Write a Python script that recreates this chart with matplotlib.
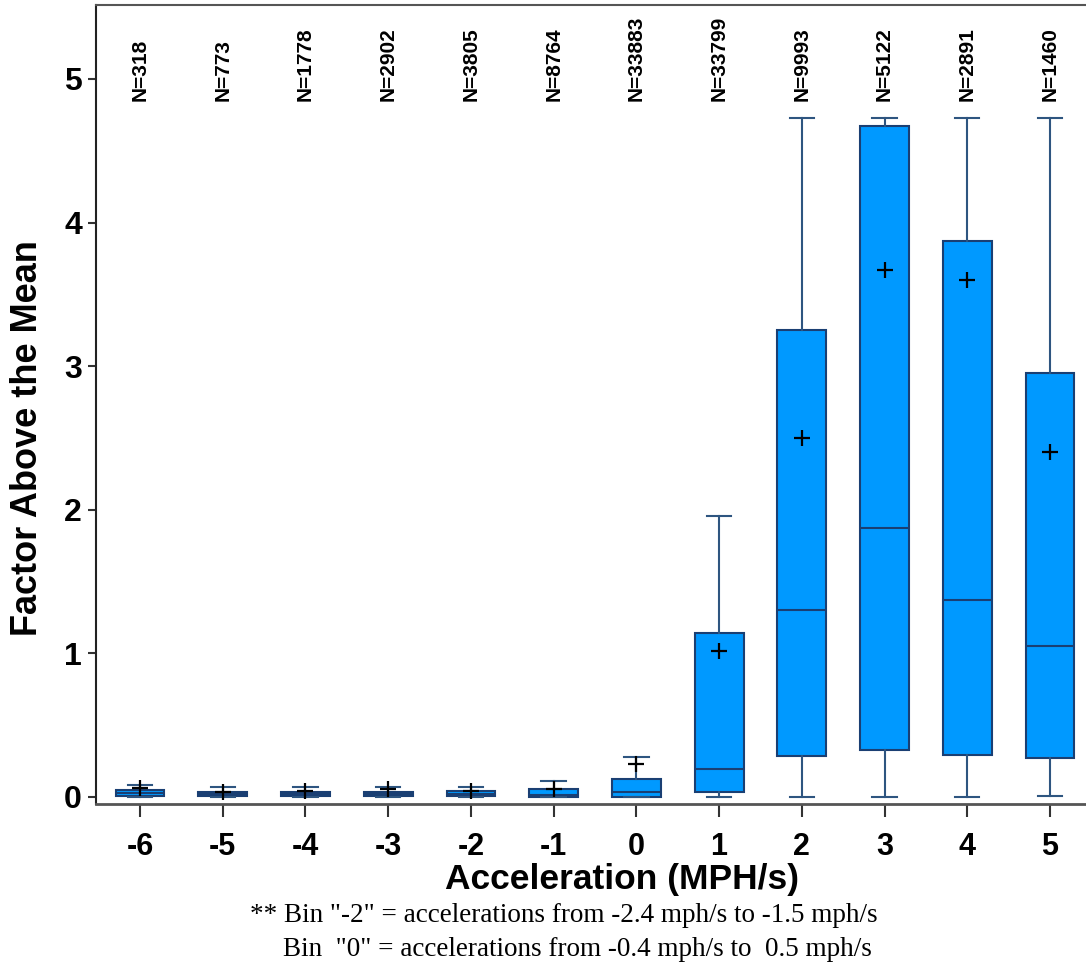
import matplotlib
matplotlib.use("Agg")
from matplotlib import pyplot as plt

bins = [-6, -5, -4, -3, -2, -1, 0, 1, 2, 3, 4, 5]
counts = [318, 773, 1778, 2902, 3805, 8764, 33883, 33799, 9993, 5122, 2891, 1460]

q1 = [0.005, 0.005, 0.005, 0.005, 0.005, 0.0, 0.0, 0.035, 0.285, 0.33, 0.29, 0.27]
med = [0.025, 0.02, 0.02, 0.02, 0.02, 0.015, 0.035, 0.195, 1.30, 1.87, 1.37, 1.05]
q3 = [0.05, 0.035, 0.035, 0.035, 0.045, 0.055, 0.125, 1.14, 3.25, 4.67, 3.87, 2.95]
whis_lo = [0.0, 0.0, 0.0, 0.0, 0.0, 0.0, 0.0, 0.0, 0.0, 0.0, 0.0, 0.01]
whis_hi = [0.085, 0.07, 0.07, 0.07, 0.07, 0.11, 0.28, 1.96, 4.73, 4.73, 4.73, 4.73]
means = [0.06, 0.035, 0.04, 0.055, 0.045, 0.055, 0.23, 1.02, 2.50, 3.67, 3.60, 2.40]

box_fill = '#0099ff'
box_edge = '#1a3f73'
whisk_col = '#2e5580'

stats = []
for i in range(len(bins)):
    stats.append({
        'med': med[i], 'q1': q1[i], 'q3': q3[i],
        'whislo': whis_lo[i], 'whishi': whis_hi[i],
        'mean': means[i], 'fliers': [],
    })

plt.rcParams['font.family'] = 'Liberation Sans'

fig = plt.figure(figsize=(10.86, 9.68), dpi=100)
ax = fig.add_axes([0.0884, 0.1694, 0.92, 0.8254])

ax.bxp(stats, positions=bins, widths=0.59, patch_artist=True,
       showmeans=True, showfliers=False,
       boxprops=dict(facecolor=box_fill, edgecolor=box_edge, linewidth=1.5),
       medianprops=dict(color=box_edge, linewidth=1.5),
       whiskerprops=dict(color=whisk_col, linewidth=1.5),
       capprops=dict(color=whisk_col, linewidth=1.5),
       meanprops=dict(marker='+', markeredgecolor='black', markersize=11,
                      markeredgewidth=1.6))

# sample sizes written vertically above each bin
for x, n in zip(bins, counts):
    ax.text(x, 4.85, 'N=%d' % n, rotation=90, ha='center', va='bottom',
            fontsize=15, fontweight='bold')

ax.set_xlim(-6.532, 5.435 + (0.92 * 1086 - 990) / 82.7)
ax.set_ylim(-0.049, 5.515)
ax.set_xticks(bins)
ax.set_xticklabels([str(b) for b in bins])
ax.set_yticks([0, 1, 2, 3, 4, 5])

for lab in ax.get_xticklabels():
    lab.set_fontweight('bold')
    lab.set_fontsize(22)
for lab in ax.get_yticklabels():
    lab.set_fontweight('bold')
    lab.set_fontsize(23)

ax.tick_params(axis='x', direction='out', length=9, width=1.5, pad=11, colors='#333333', labelcolor='black')
ax.tick_params(axis='y', direction='out', length=6, width=1.5, pad=4, colors='#333333', labelcolor='black')

ax.spines['right'].set_visible(False)
ax.spines['bottom'].set_color('#555555')
ax.spines['bottom'].set_linewidth(2)
ax.spines['left'].set_color('#222222')
ax.spines['left'].set_linewidth(1.5)
ax.spines['top'].set_color('#555555')
ax.spines['top'].set_linewidth(1.5)

fig.text(622 / 1086, 1 - 880 / 968, 'Acceleration (MPH/s)', fontsize=25.5,
         fontweight='bold', ha='center', va='center')
fig.text(28 / 1086, 1 - 438 / 968, 'Factor Above the Mean', fontsize=26,
         fontweight='bold', ha='center', va='center', rotation=90)

fig.text(0.23, 1 - 916 / 968, '** Bin "-2" = accelerations from -2.4 mph/s to -1.5 mph/s',
         family='Liberation Serif', fontsize=19.5, va='center')
fig.text(283 / 1086, 1 - 950 / 968, 'Bin  "0" = accelerations from -0.4 mph/s to  0.5 mph/s',
         family='Liberation Serif', fontsize=19.5, va='center')

fig.savefig('out.png', dpi=100)
